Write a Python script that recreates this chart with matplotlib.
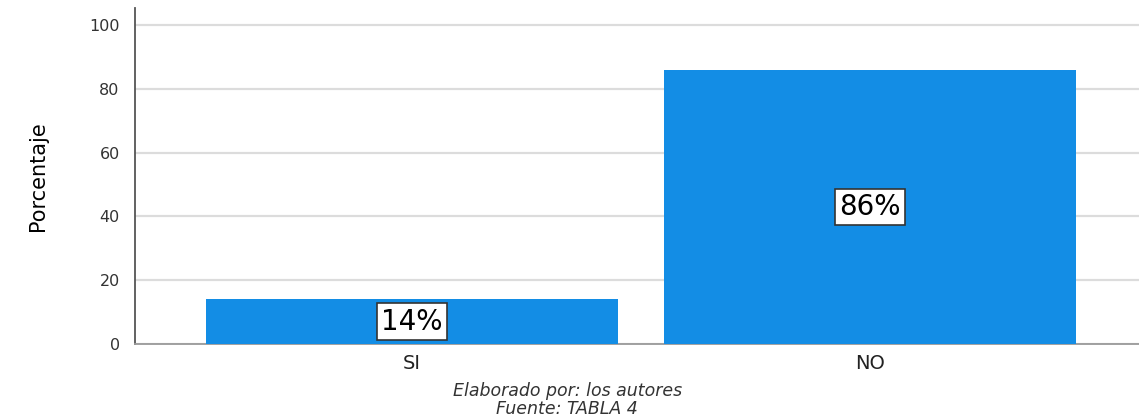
import matplotlib
matplotlib.use("Agg")
import matplotlib.pyplot as plt

# datos de la encuesta (porcentaje por respuesta)
categorias = ["SI", "NO"]
porcentajes = [14, 86]
ticks_y = [0, 20, 40, 60, 80, 100]

color_barra = "#138de5"

fig = plt.figure(figsize=(11.39, 4.2), dpi=100)
ax = fig.add_axes([0.1185, 0.181, 0.8815, 0.8])

x = list(range(len(categorias)))
bars = ax.bar(x, porcentajes, width=0.9, color=color_barra, zorder=3)

ax.set_xlim(-0.605, 1.587)
ax.set_ylim(0, 105.3)
ax.set_yticks(ticks_y)
ax.set_yticklabels([str(t) for t in ticks_y], fontsize=11.5, color="#333333")
ax.set_xticks(x)
ax.set_xticklabels(categorias, fontsize=14, color="#222222")
ax.tick_params(axis="x", length=0, pad=7)
ax.tick_params(axis="y", length=0, pad=11)

ax.grid(axis="y", color="#dcdcdc", linewidth=1.6, zorder=0)
for s in ["top", "right"]:
    ax.spines[s].set_visible(False)
ax.spines["left"].set_color("#555555")
ax.spines["left"].set_linewidth(1.3)
ax.spines["bottom"].set_color("#9a9a9a")
ax.spines["bottom"].set_linewidth(1.3)

ax.set_ylabel("Porcentaje", fontsize=15, color="black",
              family=["Liberation Sans Narrow", "DejaVu Sans"], labelpad=30)

# etiqueta con el valor en el centro de cada barra
for b, v in zip(bars, porcentajes):
    ax.text(b.get_x() + b.get_width() / 2, v / 2, f"{v}%",
            ha="center", va="center", fontsize=20, color="black", zorder=4,
            bbox=dict(boxstyle="square,pad=0.15", facecolor="white",
                      edgecolor="#333333", linewidth=1.2))

fig.text(0.498, 0.068, "Elaborado por: los autores", ha="center", va="center",
         fontsize=12.5, style="italic", color="#333333")
fig.text(0.498, 0.026, "Fuente: TABLA 4", ha="center", va="center",
         fontsize=12.5, style="italic", color="#333333")

fig.savefig("out.png", dpi=100)
plt.close(fig)
